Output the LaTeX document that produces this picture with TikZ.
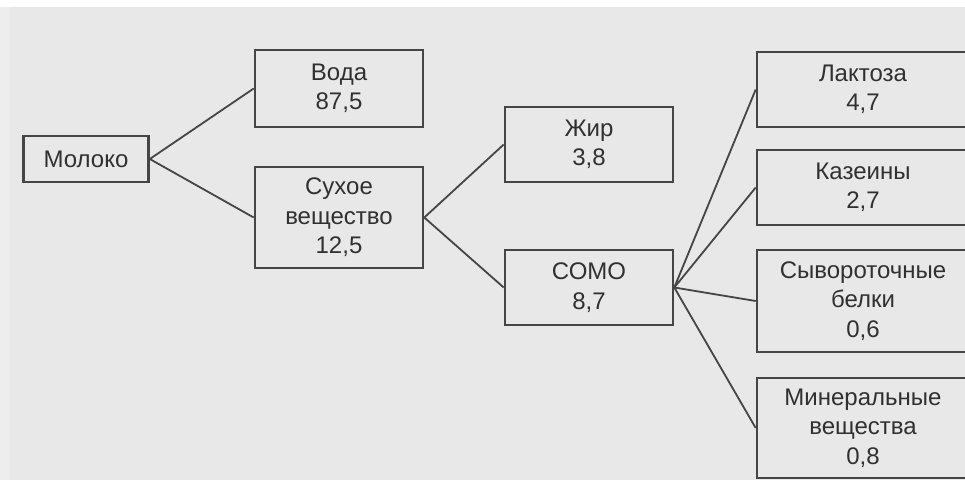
\documentclass[tikz,border=0pt]{standalone}
\usepackage{fontspec}
\setmainfont{Liberation Sans}
\newcommand{\rl}[1]{\makebox[212pt][c]{#1}}
\begin{document}
\begin{tikzpicture}[x=1pt,y=-1pt,
  box/.style={draw=boxline,line width=2.6pt,inner sep=0pt,align=center,
    text=textcol,font=\fontsize{24}{29.5}\selectfont,minimum width=168pt},
  rbox/.style={box,minimum width=224pt,text width=224pt,align=left,xshift=6pt},
  conn/.style={draw=boxline,line width=1.8pt}]
\definecolor{boxline}{HTML}{454545}
\definecolor{textcol}{HTML}{303030}
\definecolor{bg}{HTML}{E8E8E8}
\useasboundingbox (0,0) rectangle (965,480);
\clip (0,0) rectangle (965,480);
\fill[white] (0,0) rectangle (965,480);
\fill[bg] (10,7) rectangle (965,480);
\fill[bg!80!white] (0,7) rectangle (10,480);
\node[box,minimum width=125pt,minimum height=46pt] (milk) at (86,159) {Молоко};
\node[box,minimum height=77pt] (water) at (339,88.5) {Вода\\87,5};
\node[box,minimum height=101pt] (dry) at (339,217.5) {Сухое\\вещество\\12,5};
\node[box,minimum height=75pt] (fat) at (589,144.5) {Жир\\3,8};
\node[box,minimum height=75pt] (somo) at (589,287.5) {СОМО\\8,7};
\node[rbox,minimum height=75pt] (lact) at (863,89.5) {\rl{Лактоза}\\\rl{4,7}};
\node[rbox,minimum height=75pt] (cas) at (863,187.5) {\rl{Казеины}\\\rl{2,7}};
\node[rbox,minimum height=102pt] (whey) at (863,301) {\rl{Сывороточные}\\\rl{белки}\\\rl{0,6}};
\node[rbox,minimum height=100pt] (mins) at (863,428) {\rl{Минеральные}\\\rl{вещества}\\\rl{0,8}};
\draw[conn] (milk.east) -- (water.west);
\draw[conn] (milk.east) -- (dry.west);
\draw[conn] (dry.east) -- (fat.west);
\draw[conn] (dry.east) -- (somo.west);
\draw[conn] (somo.east) -- (lact.west);
\draw[conn] (somo.east) -- (cas.west);
\draw[conn] (somo.east) -- (whey.west);
\draw[conn] (somo.east) -- (mins.west);
\end{tikzpicture}
\end{document}
